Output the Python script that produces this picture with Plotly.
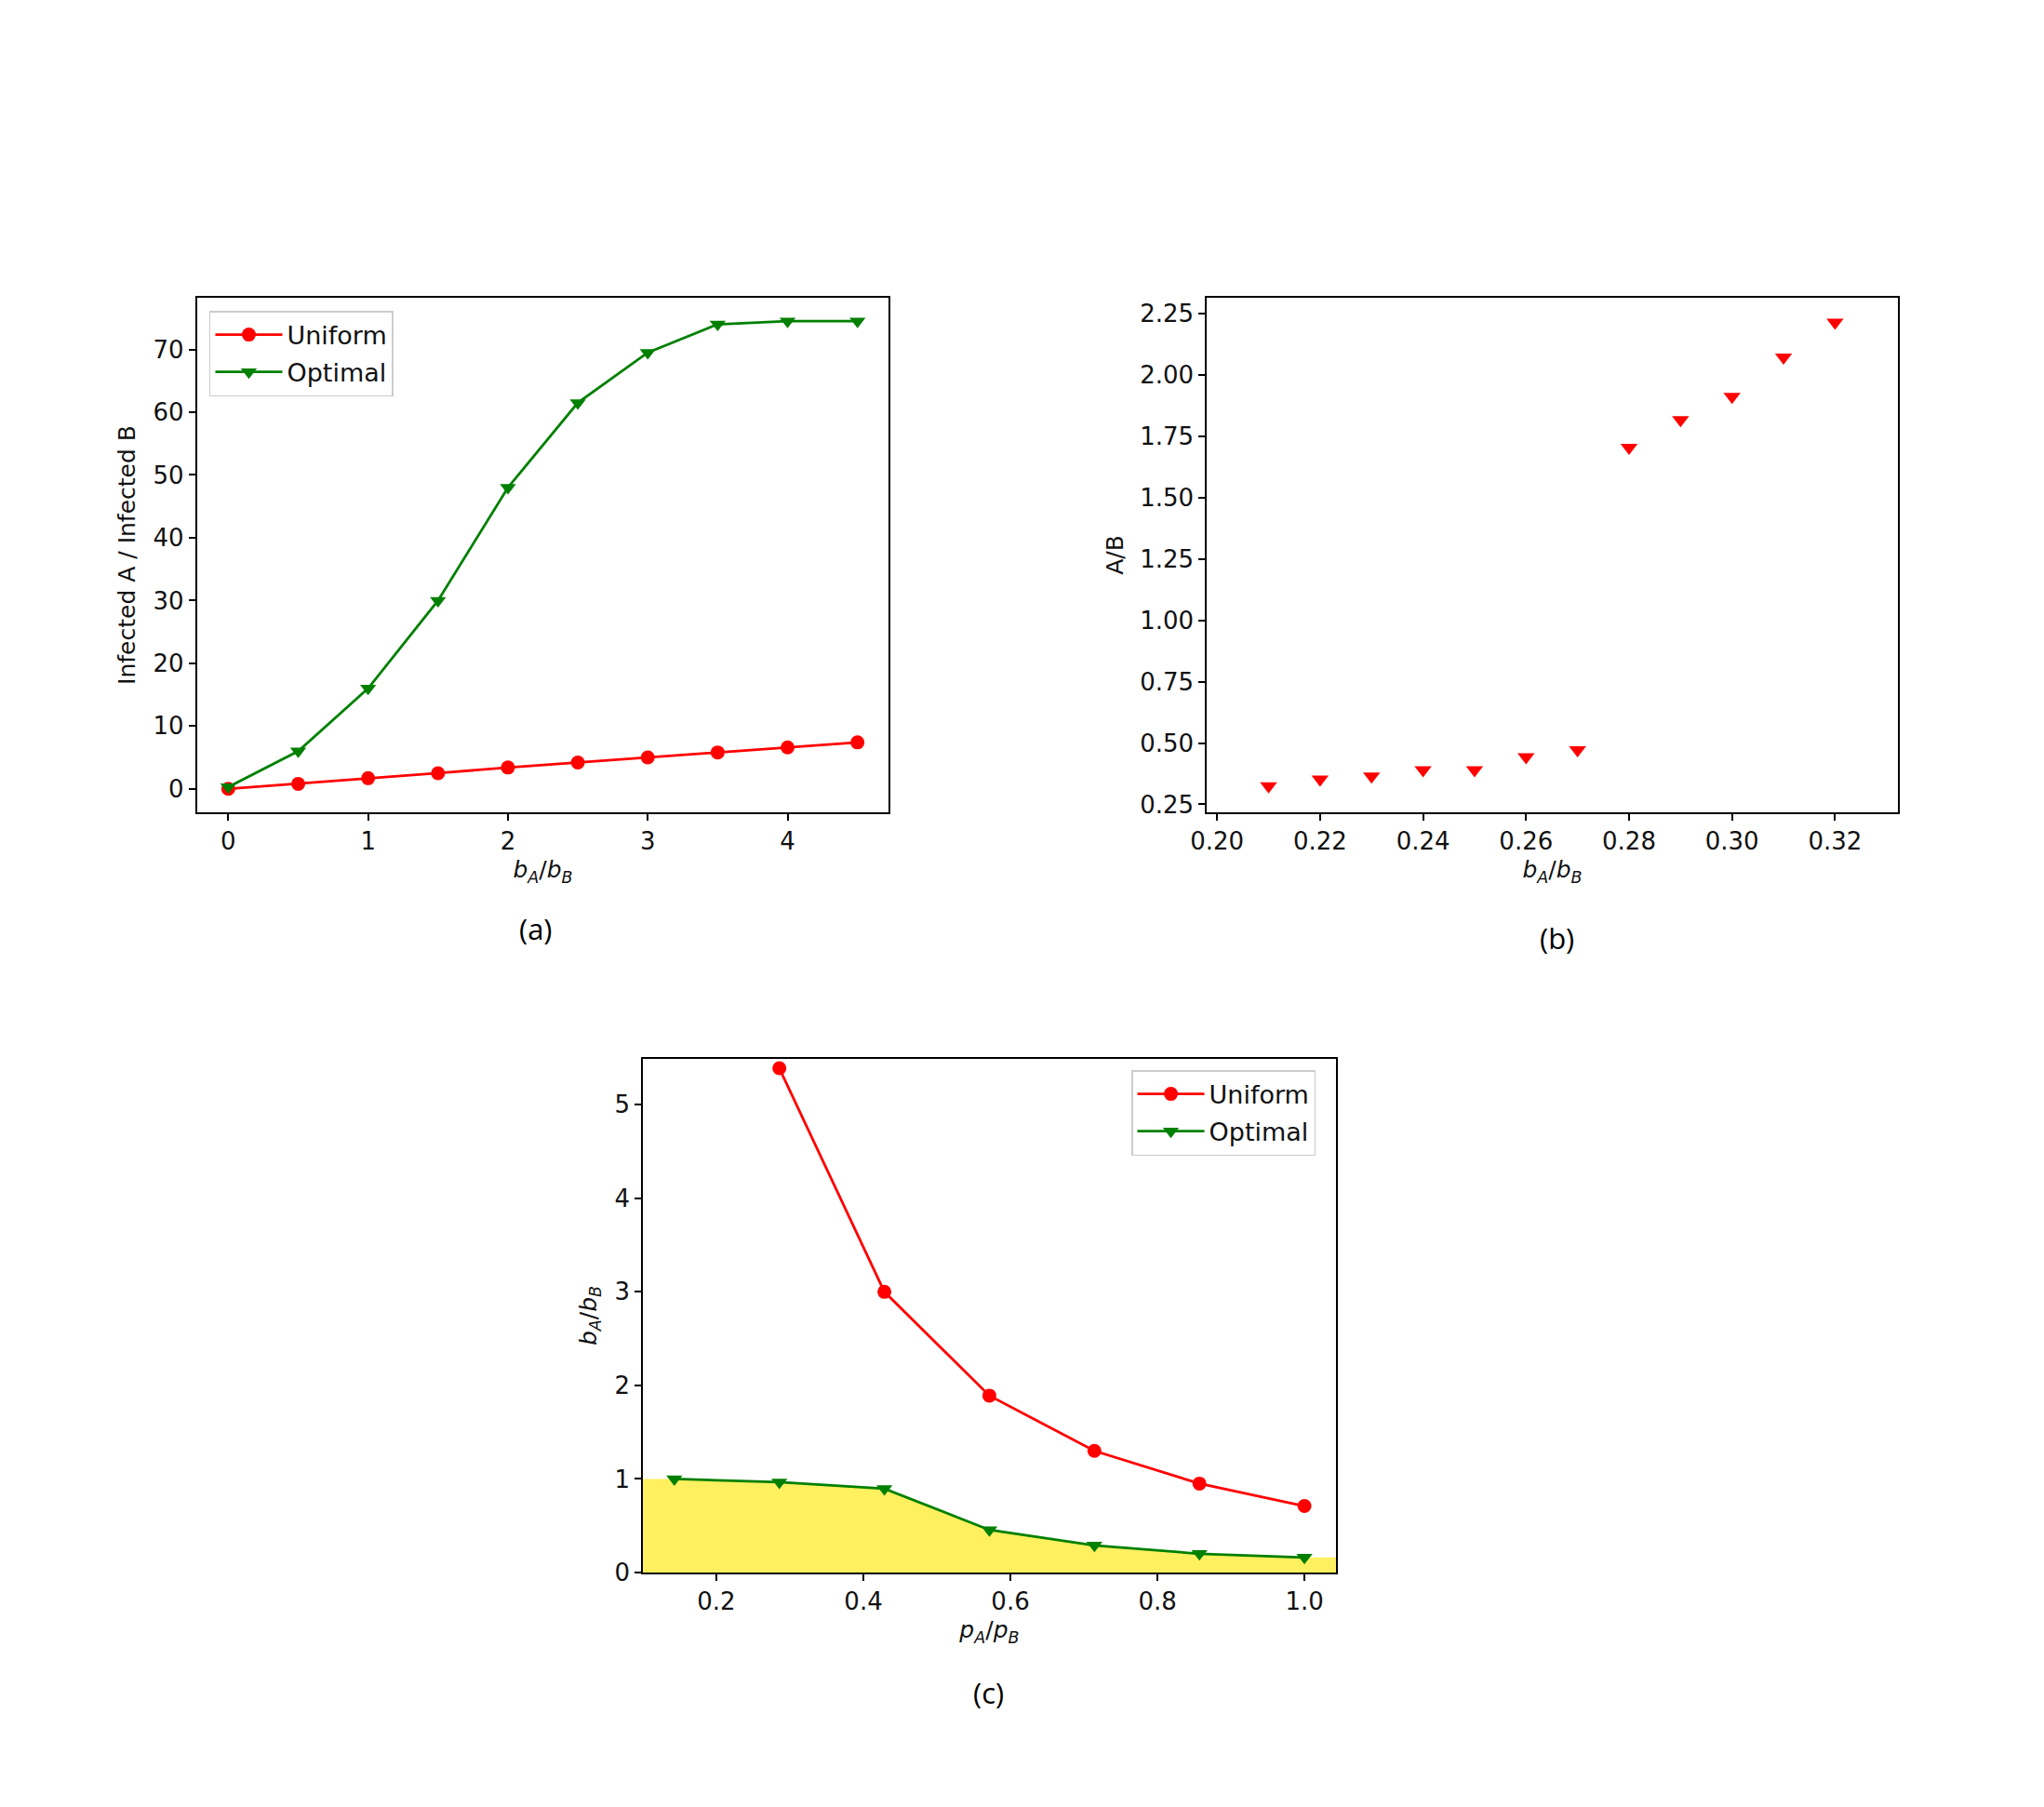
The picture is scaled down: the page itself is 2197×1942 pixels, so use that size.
import plotly.graph_objects as go

# ---- data ----
a_x = [0, 0.5, 1, 1.5, 2, 2.5, 3, 3.5, 4, 4.5]
a_uniform = [0.0, 0.8, 1.7, 2.5, 3.4, 4.2, 5.0, 5.8, 6.6, 7.4]
a_optimal = [0.3, 6.0, 16.0, 30.0, 48.0, 61.5, 69.5, 74.0, 74.5, 74.5]

b_x = [0.21, 0.22, 0.23, 0.24, 0.25, 0.26, 0.27, 0.28, 0.29, 0.30, 0.31, 0.32]
b_y = [0.325, 0.352, 0.365, 0.39, 0.39, 0.443, 0.472, 1.703, 1.816, 1.911, 2.071, 2.213]

c_x = [1/7, 2/7, 3/7, 4/7, 5/7, 6/7, 1.0]
c_uniform = [None, 5.39, 3.0, 1.89, 1.30, 0.95, 0.71]
c_optimal = [1.0, 0.965, 0.895, 0.455, 0.29, 0.20, 0.16]

panel_labels = ["(a)", "(b)", "(c)"]

RED = "#ff0000"
GREEN = "#008000"
FONT = "DejaVu Sans"
TICKSIZE = 26
LW = 2.8
MS = 15

fig = go.Figure()

# panel a
fig.add_trace(go.Scatter(x=a_x, y=a_uniform, mode="lines+markers", name="Uniform",
                         line=dict(color=RED, width=LW), marker=dict(symbol="circle", size=MS, color=RED),
                         xaxis="x", yaxis="y", legend="legend", legendgroup="u1"))
fig.add_trace(go.Scatter(x=a_x, y=a_optimal, mode="lines+markers", name="Optimal",
                         line=dict(color=GREEN, width=LW), marker=dict(symbol="triangle-down", size=MS, color=GREEN),
                         xaxis="x", yaxis="y", legend="legend", legendgroup="o1"))

# panel b
fig.add_trace(go.Scatter(x=b_x, y=b_y, mode="markers", showlegend=False,
                         marker=dict(symbol="triangle-down", size=16, color=RED),
                         xaxis="x2", yaxis="y2"))

# panel c
span = c_x[-1] - c_x[0]
c_xlo = c_x[0] - 0.05 * span
c_xhi = c_x[-1] + 0.05 * span
fill_x = [c_xlo] + c_x + [c_xhi]
fill_y = [c_optimal[0]] + c_optimal + [c_optimal[-1]]
fig.add_trace(go.Scatter(x=fill_x, y=fill_y, mode="lines", fill="tozeroy",
                         fillcolor="rgb(255,240,96)", line=dict(width=0, color="rgba(0,0,0,0)"),
                         showlegend=False, hoverinfo="skip", xaxis="x3", yaxis="y3"))
fig.add_trace(go.Scatter(x=c_x, y=c_uniform, mode="lines+markers", name="Uniform",
                         line=dict(color=RED, width=LW), marker=dict(symbol="circle", size=MS, color=RED),
                         xaxis="x3", yaxis="y3", legend="legend2", legendgroup="u2"))
fig.add_trace(go.Scatter(x=c_x, y=c_optimal, mode="lines+markers", name="Optimal",
                         line=dict(color=GREEN, width=LW), marker=dict(symbol="triangle-down", size=MS, color=GREEN),
                         xaxis="x3", yaxis="y3", legend="legend2", legendgroup="o2"))

def ax(domain, rng, **kw):
    d = dict(domain=domain, range=rng, showline=True, linecolor="black", linewidth=1.6,
             mirror=True, ticks="outside", ticklen=7, tickwidth=1.6, tickcolor="black",
             showgrid=False, zeroline=False, tickfont=dict(family=FONT, size=TICKSIZE, color="#111"),
             automargin=False)
    d.update(kw)
    return d

title_font = dict(family=FONT, size=25, color="#111")
ba_title = "<i>b</i><sub><i>A</i></sub>/<i>b</i><sub><i>B</i></sub>"

legend_common = dict(xanchor="left", yanchor="top",
                     bgcolor="rgba(255,255,255,0.8)", bordercolor="#cccccc", borderwidth=1.5,
                     font=dict(family=FONT, size=27, color="#111"), itemwidth=72,
                     tracegroupgap=2)

fig.update_layout(
    width=2197, height=1942,
    margin=dict(l=0, r=0, t=0, b=0),
    paper_bgcolor="white", plot_bgcolor="white",
    font=dict(family=FONT, color="#111"),
    xaxis=ax([0.0963, 0.4349], [-0.225, 4.725], anchor="y", tickmode="array",
             tickvals=[0, 1, 2, 3, 4],
             title=dict(text=ba_title, font=title_font, standoff=8)),
    yaxis=ax([0.5505, 0.8352], [-3.725, 78.225], anchor="x", tickmode="array",
             tickvals=[0, 10, 20, 30, 40, 50, 60, 70],
             title=dict(text="Infected A / Infected B", font=title_font, standoff=12)),
    xaxis2=ax([0.5904, 0.9285], [0.198, 0.3322], anchor="y2", tickmode="array",
              tickvals=[0.20, 0.22, 0.24, 0.26, 0.28, 0.30, 0.32], tickformat=".2f",
              title=dict(text=ba_title, font=title_font, standoff=8)),
    yaxis2=ax([0.5505, 0.8352], [0.218, 2.313], anchor="x2", tickmode="array",
              tickvals=[0.25, 0.5, 0.75, 1.0, 1.25, 1.5, 1.75, 2.0, 2.25], tickformat=".2f",
              title=dict(text="A/B", font=title_font, standoff=10)),
    xaxis3=ax([0.3145, 0.6536], [c_xlo, c_xhi], anchor="y3", tickmode="array",
              tickvals=[0.2, 0.4, 0.6, 0.8, 1.0], tickformat=".1f",
              title=dict(text="<i>p</i><sub><i>A</i></sub>/<i>p</i><sub><i>B</i></sub>", font=title_font, standoff=8)),
    yaxis3=ax([0.1298, 0.4140], [0, 5.49], anchor="x3", tickmode="array",
              tickvals=[0, 1, 2, 3, 4, 5],
              title=dict(text=ba_title, font=title_font, standoff=12)),
    legend=dict(x=0.1024, y=0.828, **legend_common),
    legend2=dict(x=0.5535, y=0.4078, **legend_common),
    showlegend=True,
)

label_pos = [(0.2621, 0.486), (0.7615, 0.481), (0.4834, 0.0633)]
for lab, (px, py) in zip(panel_labels, label_pos):
    fig.add_annotation(text=lab, x=px, y=py, xref="paper", yref="paper",
                       showarrow=False, xanchor="center", yanchor="middle",
                       font=dict(family="Open Sans", size=31, color="black"))

fig.write_html("out.html")
